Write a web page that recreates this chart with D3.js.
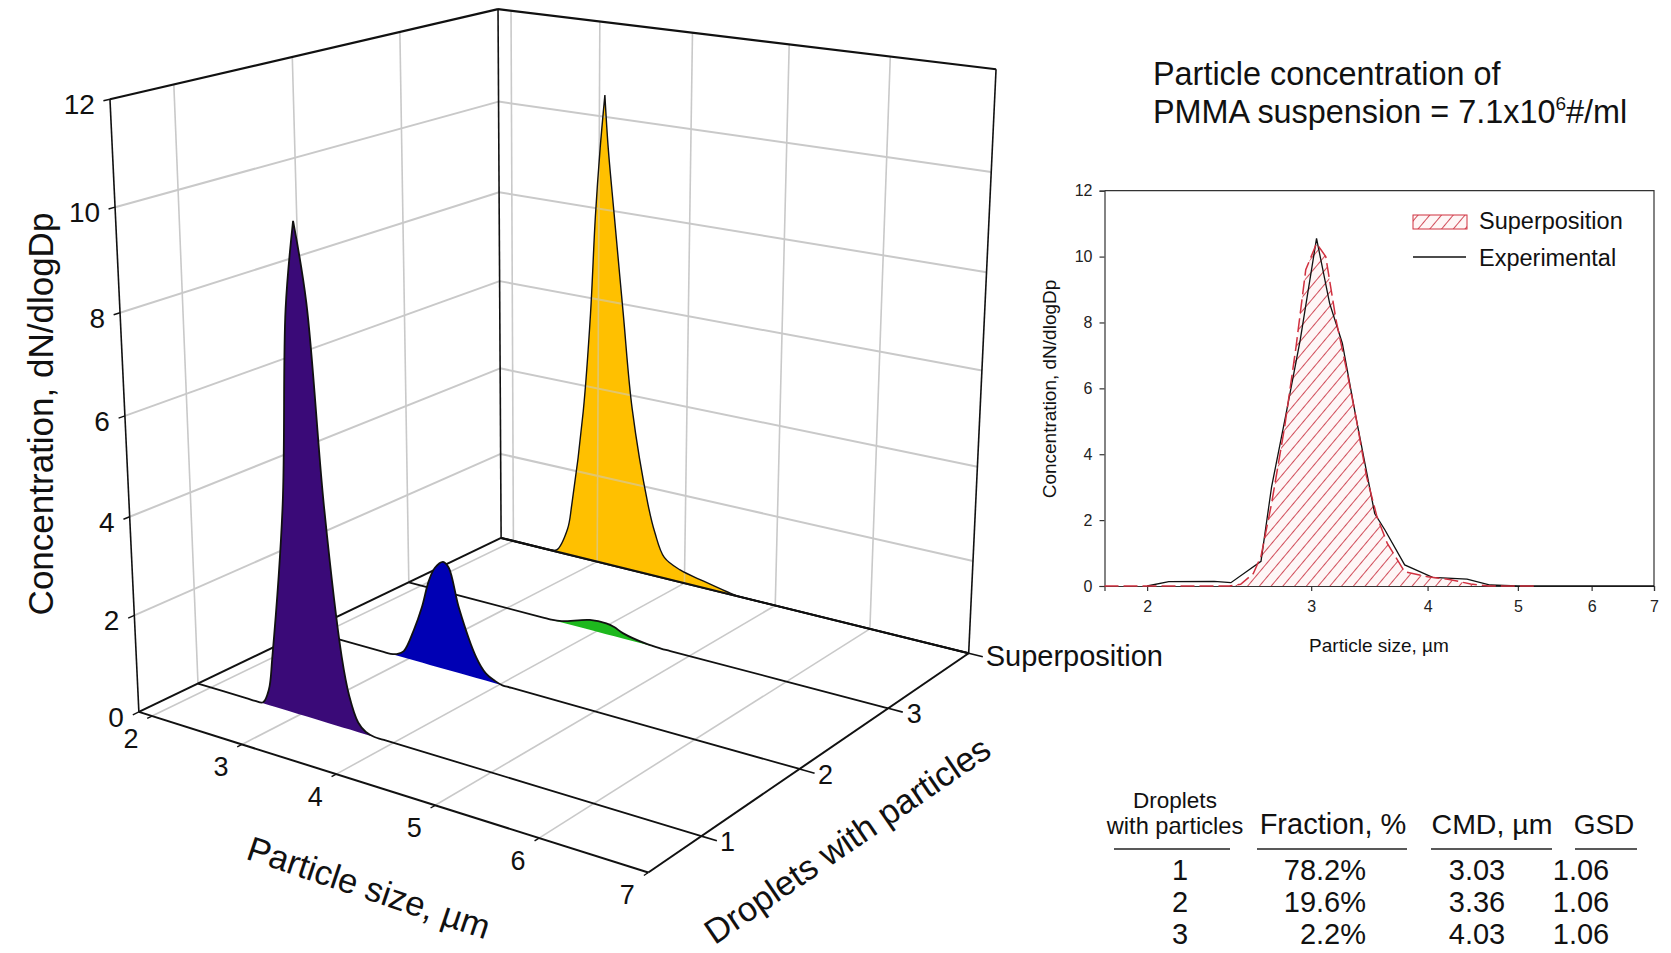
<!DOCTYPE html>
<html>
<head>
<meta charset="utf-8" />
<title></title>
<style>
body { margin: 0; background: #fff; }
text { font-family: "Liberation Sans", Arial, sans-serif; fill: #111; }
.inset .domain, .inset .tick line { stroke: #333; stroke-width: 1.2px; }
.inset .tick text { font-size: 16px; fill: #222; }
</style>
</head>
<body>
<div id="container"></div>
<script src="https://cdn.jsdelivr.net/npm/d3@7"></script>
<script>
// 3D chart data: [particle size um, dN/dlogDp]
var series1 = [[1.85,0],[2.4,0],[2.5,0],[2.59,0.02],[2.66,0.33],[2.71,1.03],[2.875,4.2],[2.97,8.1],[3.075,9.8],[3.19,8.3],[3.32,4.4],[3.47,1.45],[3.54,0.7],[3.63,0.2],[3.71,0.05],[3.8,0],[3.9,0],[7,0]];
var series2 = [[1.85,0],[2.7,0],[2.8,0],[2.88,0.04],[2.95,0.14],[3.07,0.68],[3.16,1.2],[3.24,1.8],[3.31,2.12],[3.4,2.29],[3.46,2.2],[3.57,1.38],[3.75,0.44],[3.85,0.16],[3.95,0.05],[4.03,0],[4.13,0],[7,0]];
var series3 = [[1.85,0],[3.4,0],[3.5,0],[3.62,0.03],[3.93,0.22],[4.11,0.24],[4.2,0.2],[4.29,0.12],[4.54,0.02],[4.7,0],[4.8,0],[7,0]];
var series4 = [[1.85,0],[2.3,0],[2.4,0],[2.52,0.04],[2.65,0.6],[2.7,1.2],[2.83,3.4],[2.91,5.65],[2.96,7.8],[3.01,9.3],[3.06,10.46],[3.1,9.35],[3.17,7.95],[3.28,5.8],[3.39,3.7],[3.58,1.6],[3.66,1.0],[3.77,0.48],[3.95,0.28],[4.22,0.15],[4.48,0.04],[4.6,0],[4.7,0],[7,0]];
var seriesDepths = [1, 2, 3, 4];
var seriesColors = ["#3a0a78", "#0000b4", "#1db81d", "#ffc000"];
var depthLabels = ["1", "2", "3", "Superposition"];
var sizeTicks3d = [2, 3, 4, 5, 6, 7];
var concTicks3d = [0, 2, 4, 6, 8, 10, 12];

// inset data
var superposition = [[1.8,0],[2.45,0],[2.52,0.05],[2.6,0.38],[2.65,0.9],[2.72,2.5],[2.81,4.84],[2.89,7.27],[2.96,9.6],[3.04,10.4],[3.11,10.0],[3.19,8.08],[3.28,6.46],[3.35,5.14],[3.44,3.32],[3.53,2.1],[3.62,1.3],[3.78,0.43],[4.0,0.28],[4.22,0.2],[4.45,0.06],[4.66,0],[5.22,0]];
var experimental = [[2.0,0],[2.11,0.13],[2.36,0.14],[2.46,0.1],[2.56,0.45],[2.65,0.75],[2.72,3.0],[2.82,5.24],[2.92,7.47],[3.04,10.55],[3.14,8.58],[3.24,7.37],[3.35,5.14],[3.51,2.2],[3.6,1.7],[3.78,0.64],[4.05,0.26],[4.41,0.21],[4.67,0.03],[5.0,0],[7,0]];
var insetSizeTicks = [2, 3, 4, 5, 6, 7];
var insetConcTicks = [0, 2, 4, 6, 8, 10, 12];

// table
var tableDroplets = ["1", "2", "3"];
var tableFraction = ["78.2%", "19.6%", "2.2%"];
var tableCmd = ["3.03", "3.36", "4.03"];
var tableGsd = ["1.06", "1.06", "1.06"];

var width = 1671, height = 953;
var svg = d3.select("#container").append("svg")
    .attr("width", width)
    .attr("height", height)
    .style("display", "block");

var defs = svg.append("defs");
defs.append("pattern")
    .attr("id", "hatch")
    .attr("patternUnits", "userSpaceOnUse")
    .attr("width", 9)
    .attr("height", 9)
    .attr("patternTransform", "rotate(40)")
    .call(function(p) {
        p.append("rect").attr("width", 9).attr("height", 9).attr("fill", "#fef6f6");
        p.append("line").attr("x1", 0).attr("x2", 0).attr("y1", 0).attr("y2", 9)
            .attr("stroke", "#c9303f").attr("stroke-width", 1.7);
    });

// ---- perspective camera, fitted on where the box corners sit in the picture ----
var xMin = 1.85, xMax = 7, dMin = 0.5, dMax = 4, zMax = 12;
var scaleSize = d3.scaleLinear().domain([xMin, xMax]).range([0, 1]);
var scaleDepth = d3.scaleLinear().domain([dMin, dMax]).range([0, 1]);
var scaleConc = d3.scaleLinear().domain([0, zMax]).range([0, 1]);

// size, depth, conc -> screen x, screen y
var cameraAnchors = [
    [xMin, dMin, 0, 139, 711], [xMax, dMin, 0, 648, 873], [xMax, dMax, 0, 968, 653], [xMin, dMax, 0, 500, 538],
    [xMin, dMin, 12, 110.5, 99], [xMin, dMax, 12, 498, 10], [xMax, dMax, 12, 995, 69],
    [xMin, dMin, 10, 115, 207], [xMin, dMax, 10, 498.5, 101.7], [xMax, dMax, 10, 993, 171.7],
    [xMin, dMin, 4, 128.5, 516.7], [xMin, dMax, 4, 499, 367.7], [4, dMin, 0, 337.5, 776], [4, dMax, 0, 687, 584],
    [xMax, 2, 0, 798, 768], [xMin, 2, 0, 309, 630]
];

function solve(A, b) {
    var n = b.length;
    for (var i = 0; i < n; i++) {
        var p = i;
        for (var r = i + 1; r < n; r++) if (Math.abs(A[r][i]) > Math.abs(A[p][i])) p = r;
        var t = A[i]; A[i] = A[p]; A[p] = t;
        t = b[i]; b[i] = b[p]; b[p] = t;
        for (r = i + 1; r < n; r++) {
            var f = A[r][i] / A[i][i];
            for (var c = i; c < n; c++) A[r][c] -= f * A[i][c];
            b[r] -= f * b[i];
        }
    }
    var out = new Array(n);
    for (i = n - 1; i >= 0; i--) {
        var s = b[i];
        for (c = i + 1; c < n; c++) s -= A[i][c] * out[c];
        out[i] = s / A[i][i];
    }
    return out;
}

function fitCamera(anchors) {
    var rows = [], rhs = [];
    anchors.forEach(function(a) {
        var u = scaleSize(a[0]), v = scaleDepth(a[1]), w = scaleConc(a[2]), sx = a[3] / 1000, sy = a[4] / 1000;
        rows.push([u, v, w, 1, 0, 0, 0, 0, -sx * u, -sx * v, -sx * w]); rhs.push(sx);
        rows.push([0, 0, 0, 0, u, v, w, 1, -sy * u, -sy * v, -sy * w]); rhs.push(sy);
    });
    var N = d3.range(11).map(function(i) {
        return d3.range(11).map(function(j) { return d3.sum(rows, function(r) { return r[i] * r[j]; }); });
    });
    var y = d3.range(11).map(function(i) { return d3.sum(rows, function(r, k) { return r[i] * rhs[k]; }); });
    return solve(N, y);
}
var cam = fitCamera(cameraAnchors);

function project(size, depth, conc) {
    var u = scaleSize(size), v = scaleDepth(depth), w = scaleConc(conc);
    var q = cam[8] * u + cam[9] * v + cam[10] * w + 1;
    return [1000 * (cam[0] * u + cam[1] * v + cam[2] * w + cam[3]) / q,
            1000 * (cam[4] * u + cam[5] * v + cam[6] * w + cam[7]) / q];
}

var line = d3.line();
var smooth = d3.line().curve(d3.curveCatmullRom.alpha(0.5));

function seg(g, a, b, color, w) {
    g.append("path").attr("d", line([a, b])).attr("stroke", color).attr("stroke-width", w).attr("fill", "none");
}

// back wall, side wall and floor grid
function drawGrid(g, opacity) {
    var grid = g.append("g").attr("opacity", opacity);
    var col = "#c9c9c9";
    concTicks3d.slice(1, -1).forEach(function(z) {
        seg(grid, project(xMin, dMin, z), project(xMin, dMax, z), col, 2);
        seg(grid, project(xMin, dMax, z), project(xMax, dMax, z), col, 2);
    });
    sizeTicks3d.slice(0, -1).forEach(function(s) {
        seg(grid, project(s, dMax, 0), project(s, dMax, zMax), col, 1.6);
        seg(grid, project(s, dMin, 0), project(s, dMax, 0), col, 1.6);
    });
    seriesDepths.slice(0, 3).forEach(function(d) {
        seg(grid, project(xMin, d, 0), project(xMin, d, zMax), col, 1.6);
    });
}

var chart = svg.append("g");
drawGrid(chart, 1);

// box frame
var frame = chart.append("g");
seg(frame, project(xMin, dMin, 0), project(xMin, dMin, zMax), "#111", 1.6);
seg(frame, project(xMin, dMax, 0), project(xMin, dMax, zMax), "#111", 1.6);
seg(frame, project(xMax, dMax, 0), project(xMax, dMax, zMax), "#111", 1.6);
seg(frame, project(xMin, dMin, zMax), project(xMin, dMax, zMax), "#111", 2.2);
seg(frame, project(xMin, dMax, zMax), project(xMax, dMax, zMax), "#111", 2.2);
seg(frame, project(xMin, dMin, 0), project(xMax, dMin, 0), "#111", 2);
seg(frame, project(xMin, dMin, 0), project(xMin, dMax, 0), "#111", 2);
seg(frame, project(xMax, dMin, 0), project(xMax, dMax, 0), "#111", 2);
seg(frame, project(xMin, dMax, 0), project(xMax, dMax, 0), "#111", 2);

// ticks and labels of the box
concTicks3d.forEach(function(z) {
    var p = project(xMin, dMin, z);
    seg(frame, p, project(xMin, dMin - 0.05, z), "#111", 1.4);
    svg.append("text").attr("x", p[0] - 15).attr("y", p[1] + 15)
        .attr("text-anchor", "end").attr("font-size", 28).text(z);
});
sizeTicks3d.forEach(function(s) {
    var p = project(s, dMin, 0);
    seg(frame, p, project(s, dMin - 0.04, 0), "#111", 1.4);
    svg.append("text").attr("x", p[0] - 21).attr("y", p[1] + 32)
        .attr("text-anchor", "middle").attr("font-size", 27).text(s);
});
seriesDepths.forEach(function(d, i) {
    var p = project(xMax, d, 0);
    seg(frame, p, project(xMax + 0.14, d, 0), "#111", 1.6);
    if (i < 3) {
        svg.append("text").attr("x", p[0] + 26).attr("y", p[1] + 15)
            .attr("text-anchor", "middle").attr("font-size", 27).text(depthLabels[i]);
    } else {
        svg.append("text").attr("x", p[0] + 17).attr("y", p[1] + 13)
            .attr("font-size", 29).text(depthLabels[i]);
    }
});

// outline of a peak; the tall ones keep a sharp tip
function peakPath(top, sharp) {
    if (!sharp) return smooth(top);
    var tip = d3.scan(top, function(a, b) { return a[1] - b[1]; });
    return smooth(top.slice(0, tip + 1)) + smooth(top.slice(tip)).replace("M", "L");
}

// the series, from the back to the front
var allSeries = [series1, series2, series3, series4];
d3.range(3, -1, -1).forEach(function(i) {
    var d = seriesDepths[i];
    var top = allSeries[i].map(function(q) { return project(q[0], d, q[1]); });
    var base = allSeries[i].map(function(q) { return project(q[0], d, 0); }).reverse();
    var outline = peakPath(top, i == 0 || i == 3);
    var shape = outline + "L" + base.join("L") + "Z";
    chart.append("path")
        .attr("d", shape)
        .attr("fill", seriesColors[i]);
    if (i == 3) {
        // the grid shows through the yellow peak
        defs.append("clipPath").attr("id", "peakClip").append("path").attr("d", shape);
        drawGrid(chart.append("g").attr("clip-path", "url(#peakClip)"), 0.55);
        seg(chart, project(xMin, dMax, 0), project(xMax, dMax, 0), "#111", 2);
    }
    chart.append("path")
        .attr("d", outline)
        .attr("fill", "none")
        .attr("stroke", "#111")
        .attr("stroke-width", i == 3 ? 1.4 : 1.8);
});

// axis titles of the box
svg.append("text").attr("transform", "translate(53,414) rotate(-90)")
    .attr("text-anchor", "middle").attr("font-size", 35).text("Concentration, dN/dlogDp");
svg.append("text").attr("transform", "translate(365,899) rotate(18.6)")
    .attr("text-anchor", "middle").attr("font-size", 34.5).text("Particle size, µm");
svg.append("text").attr("transform", "translate(854,850) rotate(-34.4)")
    .attr("text-anchor", "middle").attr("font-size", 34.5).text("Droplets with particles");

// title
svg.append("text").attr("x", 1153).attr("y", 85).attr("font-size", 32.4).text("Particle concentration of");
var title2 = svg.append("text").attr("x", 1153).attr("y", 123).attr("font-size", 32.4);
title2.append("tspan").text("PMMA suspension = 7.1x10");
title2.append("tspan").attr("font-size", 19).attr("dy", -13).text("6");
title2.append("tspan").attr("dy", 13).text("#/ml");

// ---- inset 2D chart ----
var inset = svg.append("g").attr("class", "inset");
var ix = d3.scaleLog().domain([1.8, 7]).range([1104.5, 1654]);
var iy = d3.scaleLinear().domain([0, 12]).range([586, 190.7]);

inset.append("path")
    .attr("d", d3.area().x(function(d) { return ix(d[0]); }).y0(iy(0)).y1(function(d) { return iy(d[1]); })(superposition))
    .attr("fill", "url(#hatch)");
inset.append("g").attr("transform", "translate(0,586)")
    .call(d3.axisBottom(ix).tickValues(insetSizeTicks).tickFormat(d3.format("d")).tickSize(5).tickPadding(10));
inset.append("g").attr("transform", "translate(1104.5,0)")
    .call(d3.axisLeft(iy).tickValues(insetConcTicks).tickSize(5).tickPadding(7));
inset.append("path")
    .attr("d", line([[1104.5, 190.7], [1654, 190.7], [1654, 586]]))
    .attr("fill", "none").attr("stroke", "#333").attr("stroke-width", 1.2);
inset.append("path")
    .attr("d", d3.line().x(function(d) { return ix(d[0]); }).y(function(d) { return iy(d[1]); })(experimental))
    .attr("fill", "none").attr("stroke", "#111").attr("stroke-width", 1.3);
inset.append("path")
    .attr("d", d3.line().x(function(d) { return ix(d[0]); }).y(function(d) { return iy(d[1]); })(superposition))
    .attr("fill", "none").attr("stroke", "#d0303f").attr("stroke-width", 1.5).attr("stroke-dasharray", "14 5");

inset.append("text").attr("x", 1379).attr("y", 652).attr("text-anchor", "middle").attr("font-size", 19).attr("fill", "#222").text("Particle size, µm");
inset.append("text").attr("transform", "translate(1056,389) rotate(-90)").attr("text-anchor", "middle").attr("font-size", 19).attr("fill", "#222").text("Concentration, dN/dlogDp");

// legend
inset.append("rect").attr("x", 1413).attr("y", 215).attr("width", 54).attr("height", 14)
    .attr("fill", "url(#hatch)").attr("stroke", "#d0303f").attr("stroke-width", 1);
inset.append("text").attr("x", 1479).attr("y", 229).attr("font-size", 23.5).text("Superposition");
inset.append("path").attr("d", line([[1413, 257], [1466, 257]])).attr("stroke", "#111").attr("stroke-width", 1.3);
inset.append("text").attr("x", 1479).attr("y", 266).attr("font-size", 23.5).text("Experimental");

// ---- table ----
var table = svg.append("g").attr("font-size", 28);
function cell(x, y, txt, size, anchor) {
    table.append("text").attr("x", x).attr("y", y).attr("text-anchor", anchor || "middle")
        .attr("font-size", size).text(txt);
}
cell(1175, 808, "Droplets", 22.5);
cell(1175, 834, "with particles", 23.6);
cell(1333, 834, "Fraction, %", 29);
cell(1492, 834, "CMD, µm", 28.5);
cell(1604, 834, "GSD", 28);
[[1114, 1230], [1257, 1407], [1431, 1552], [1575, 1637]].forEach(function(r) {
    table.append("path").attr("d", line([[r[0], 849], [r[1], 849]])).attr("stroke", "#222").attr("stroke-width", 1.3);
});
var rowY = d3.scalePoint().domain(tableDroplets).range([880, 944]);
tableDroplets.forEach(function(d, i) {
    cell(1180, rowY(d), d, 29);
    cell(1366, rowY(d), tableFraction[i], 29, "end");
    cell(1477, rowY(d), tableCmd[i], 29);
    cell(1581, rowY(d), tableGsd[i], 29);
});
</script>
</body>
</html>
